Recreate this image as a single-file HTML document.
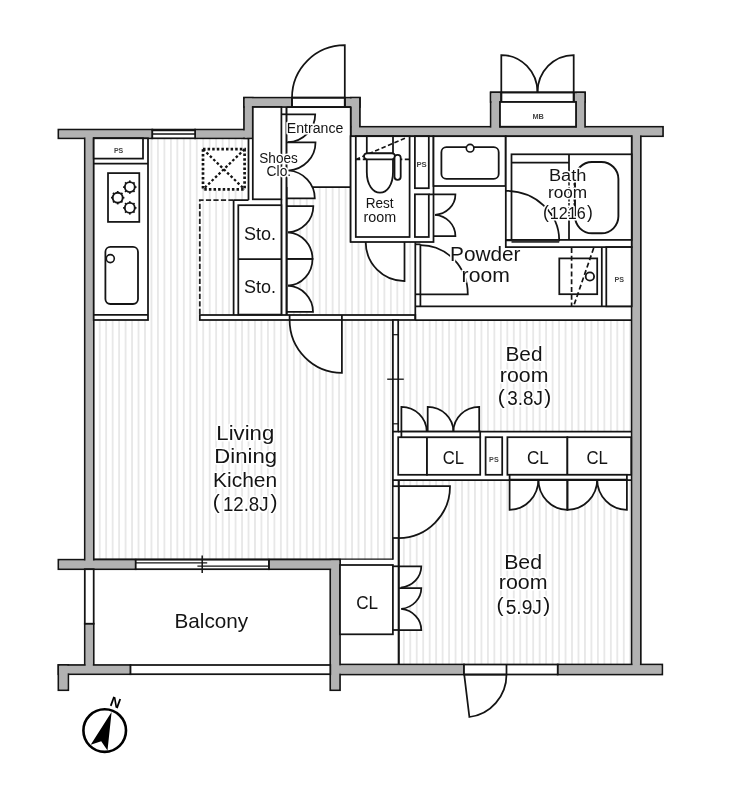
<!DOCTYPE html>
<html><head><meta charset="utf-8"><title>Floor plan</title>
<style>html,body{margin:0;padding:0;background:#fff}svg{display:block;will-change:transform;filter:grayscale(1)}text{font-family:"Liberation Sans","Noto Sans CJK JP",sans-serif}</style>
</head><body>
<svg width="734" height="800" viewBox="0 0 734 800">
<rect width="734" height="800" fill="#fff"/>
<defs><pattern id="st" x="99.7" y="0" width="6.47" height="10" patternUnits="userSpaceOnUse"><rect x="-0.55" y="0" width="1.1" height="10" fill="#d8d8d8"/><rect x="5.92" y="0" width="1.1" height="10" fill="#d8d8d8"/></pattern></defs>
<path d="M148,138 L248.5,138 L248.5,200 L233.6,200 L233.6,315 L199.8,315 L199.8,320 L393,320 L393,560 L93.7,560 L93.7,320 L148,320 Z" fill="url(#st)"/>
<path d="M286.6,187 L351,187 L351,242 L415,242 L415,315 L286.6,315 Z" fill="url(#st)"/>
<path d="M398.3,320 L632,320 L632,432 L398.3,432 Z" fill="url(#st)"/>
<path d="M398.7,480 L632,480 L632,664.5 L398.7,664.5 Z" fill="url(#st)"/>
<path d="M506.5,674.4 L464.2,674.4 L469.4,717 A42.30,42.92 0 0 0 506.5,674.4" fill="#fff" stroke="none"/>
<path d="M401.3,608.9 L398.7,630 L421.3,630 A22.60,21.26 0 0 0 401.3,608.9" fill="#fff" stroke="none"/>
<path d="M401.3,608.9 L398.7,588 L421.3,588 A22.60,21.06 0 0 1 401.3,608.9" fill="#fff" stroke="none"/>
<path d="M400.8,587.5 L398.7,566.3 L421.3,566.3 A22.60,21.30 0 0 1 400.8,587.5" fill="#fff" stroke="none"/>
<path d="M398.7,538 L398.7,486.2 L450,486.2 A51.30,51.80 0 0 1 398.7,538" fill="#fff" stroke="none"/>
<path d="M597.2,479.6 L626.9,479.6 L626.9,509.8 A29.70,30.20 0 0 1 597.2,479.6" fill="#fff" stroke="none"/>
<path d="M597.2,479.6 L567.4,479.6 L567.4,509.8 A29.80,30.20 0 0 0 597.2,479.6" fill="#fff" stroke="none"/>
<path d="M538.4,479.6 L567.4,479.6 L567.4,509.8 A29.00,30.20 0 0 1 538.4,479.6" fill="#fff" stroke="none"/>
<path d="M538.4,479.6 L509.6,479.6 L509.6,509.8 A28.80,30.20 0 0 0 538.4,479.6" fill="#fff" stroke="none"/>
<path d="M453.4,431.6 L479.2,431.6 L479.2,406.8 A25.80,24.80 0 0 0 453.4,431.6" fill="#fff" stroke="none"/>
<path d="M453.4,431.6 L427.7,431.6 L427.7,406.8 A25.70,24.80 0 0 1 453.4,431.6" fill="#fff" stroke="none"/>
<path d="M426.7,431.6 L401.4,431.6 L401.4,406.8 A25.30,24.80 0 0 1 426.7,431.6" fill="#fff" stroke="none"/>
<path d="M435,214.8 L433.5,236 L455.4,236 A21.90,21.25 0 0 0 435,214.8" fill="#fff" stroke="none"/>
<path d="M435,214.8 L433.5,194.4 L455.4,194.4 A21.90,20.46 0 0 1 435,214.8" fill="#fff" stroke="none"/>
<path d="M420.4,245 L420.4,294.3 L467.8,294.3 A47.40,49.30 0 0 0 420.4,245" fill="#fff" stroke="none"/>
<path d="M365.7,242 L404.5,242 L404.5,281 A38.80,39.00 0 0 1 365.7,242" fill="#fff" stroke="none"/>
<path d="M289.6,320 L341.9,320 L341.9,372.8 A52.30,52.80 0 0 1 289.6,320" fill="#fff" stroke="none"/>
<path d="M537.5,92.4 L573.7,92.4 L573.7,55 A36.20,37.40 0 0 0 537.5,92.4" fill="#fff" stroke="none"/>
<path d="M537.5,92.4 L501.3,92.4 L501.3,55 A36.20,37.40 0 0 1 537.5,92.4" fill="#fff" stroke="none"/>
<path d="M292,97.7 L344.8,97.7 L344.8,45.2 A52.80,52.50 0 0 0 292,97.7" fill="#fff" stroke="none"/>
<path d="M288,285.7 L286.6,311.9 L313,311.9 A26.40,26.24 0 0 0 288,285.7" fill="#fff" stroke="none"/>
<path d="M288,285.7 L286.6,258.9 L312.5,258.9 A25.90,26.84 0 0 1 288,285.7" fill="#fff" stroke="none"/>
<path d="M288,232.3 L286.6,258.9 L312.5,258.9 A25.90,26.64 0 0 0 288,232.3" fill="#fff" stroke="none"/>
<path d="M288,232.3 L286.6,206.2 L313.3,206.2 A26.70,26.14 0 0 1 288,232.3" fill="#fff" stroke="none"/>
<path d="M288.5,170.5 L286.6,198.4 L314.8,198.4 A28.20,27.96 0 0 0 288.5,170.5" fill="#fff" stroke="none"/>
<path d="M288.5,170.5 L286.6,142.4 L315.5,142.4 A28.90,28.16 0 0 1 288.5,170.5" fill="#fff" stroke="none"/>
<path d="M288,142.2 L286.6,114.3 L315.2,114.3 A28.60,27.94 0 0 1 288,142.2" fill="#fff" stroke="none"/>
<rect x="58.4" y="129.6" width="93.9" height="8.7" fill="#b2b2b2" stroke="#141414" stroke-width="1.75"/>
<rect x="195.1" y="129.6" width="52.9" height="8.7" fill="#b2b2b2" stroke="#141414" stroke-width="1.75"/>
<rect x="244" y="97.7" width="8.8" height="40.6" fill="#b2b2b2" stroke="#141414" stroke-width="1.75"/>
<rect x="244" y="97.7" width="48" height="9.3" fill="#b2b2b2" stroke="#141414" stroke-width="1.75"/>
<rect x="344.8" y="97.7" width="15.1" height="9.3" fill="#b2b2b2" stroke="#141414" stroke-width="1.75"/>
<rect x="350.8" y="97.7" width="9.1" height="38.5" fill="#b2b2b2" stroke="#141414" stroke-width="1.75"/>
<rect x="351" y="126.8" width="312" height="9.4" fill="#b2b2b2" stroke="#141414" stroke-width="1.75"/>
<rect x="490.7" y="92.4" width="9.3" height="38.6" fill="#b2b2b2" stroke="#141414" stroke-width="1.75"/>
<rect x="490.7" y="92.4" width="10.6" height="9.6" fill="#b2b2b2" stroke="#141414" stroke-width="1.75"/>
<rect x="573.7" y="92.4" width="11.3" height="9.6" fill="#b2b2b2" stroke="#141414" stroke-width="1.75"/>
<rect x="576" y="92.4" width="9" height="38.6" fill="#b2b2b2" stroke="#141414" stroke-width="1.75"/>
<rect x="631.7" y="131" width="9.1" height="539" fill="#b2b2b2" stroke="#141414" stroke-width="1.75"/>
<rect x="335" y="664.5" width="129" height="10.0" fill="#b2b2b2" stroke="#141414" stroke-width="1.75"/>
<rect x="557.7" y="664.5" width="104.6" height="10.0" fill="#b2b2b2" stroke="#141414" stroke-width="1.75"/>
<rect x="330.3" y="559.7" width="9.7" height="130.5" fill="#b2b2b2" stroke="#141414" stroke-width="1.75"/>
<rect x="58.4" y="559.7" width="77.3" height="9.5" fill="#b2b2b2" stroke="#141414" stroke-width="1.75"/>
<rect x="268.9" y="559.7" width="71.1" height="9.5" fill="#b2b2b2" stroke="#141414" stroke-width="1.75"/>
<rect x="84.8" y="134" width="8.9" height="430" fill="#b2b2b2" stroke="#141414" stroke-width="1.75"/>
<rect x="84.8" y="623.7" width="8.9" height="46.3" fill="#b2b2b2" stroke="#141414" stroke-width="1.75"/>
<rect x="58.4" y="665" width="72.1" height="9.2" fill="#b2b2b2" stroke="#141414" stroke-width="1.75"/>
<rect x="58.4" y="665" width="9.9" height="25.2" fill="#b2b2b2" stroke="#141414" stroke-width="1.75"/>
<rect x="59.275" y="130.475" width="92.15" height="6.95" fill="#b2b2b2"/>
<rect x="195.975" y="130.475" width="51.15" height="6.95" fill="#b2b2b2"/>
<rect x="244.875" y="98.575" width="7.05" height="38.85" fill="#b2b2b2"/>
<rect x="244.875" y="98.575" width="46.25" height="7.55" fill="#b2b2b2"/>
<rect x="345.675" y="98.575" width="13.35" height="7.55" fill="#b2b2b2"/>
<rect x="351.675" y="98.575" width="7.35" height="36.75" fill="#b2b2b2"/>
<rect x="351.875" y="127.675" width="310.25" height="7.65" fill="#b2b2b2"/>
<rect x="491.575" y="93.275" width="7.55" height="36.85" fill="#b2b2b2"/>
<rect x="491.575" y="93.275" width="8.85" height="7.85" fill="#b2b2b2"/>
<rect x="574.575" y="93.275" width="9.55" height="7.85" fill="#b2b2b2"/>
<rect x="576.875" y="93.275" width="7.25" height="36.85" fill="#b2b2b2"/>
<rect x="632.575" y="131.875" width="7.35" height="537.25" fill="#b2b2b2"/>
<rect x="335.875" y="665.375" width="127.25" height="8.25" fill="#b2b2b2"/>
<rect x="558.575" y="665.375" width="102.85" height="8.25" fill="#b2b2b2"/>
<rect x="331.175" y="560.575" width="7.95" height="128.75" fill="#b2b2b2"/>
<rect x="59.275" y="560.575" width="75.55" height="7.75" fill="#b2b2b2"/>
<rect x="269.775" y="560.575" width="69.35" height="7.75" fill="#b2b2b2"/>
<rect x="85.675" y="134.875" width="7.15" height="428.25" fill="#b2b2b2"/>
<rect x="85.675" y="624.575" width="7.15" height="44.55" fill="#b2b2b2"/>
<rect x="59.275" y="665.875" width="70.35" height="7.45" fill="#b2b2b2"/>
<rect x="59.275" y="665.875" width="8.15" height="23.45" fill="#b2b2b2"/>
<rect x="152.3" y="129.6" width="42.8" height="8.7" rx="0" fill="#fff" stroke="#141414" stroke-width="1.75"/>
<line x1="152.3" y1="134.1" x2="195.1" y2="134.1" stroke="#141414" stroke-width="1.5" />
<line x1="152.3" y1="130.6" x2="195.1" y2="130.6" stroke="#141414" stroke-width="1.3" />
<rect x="292" y="97.7" width="52.8" height="9.3" rx="0" fill="#fff" stroke="#141414" stroke-width="1.75"/>
<rect x="501.3" y="92.4" width="72.4" height="9.6" rx="0" fill="#fff" stroke="#141414" stroke-width="1.75"/>
<rect x="135.7" y="559.7" width="133.2" height="9.5" rx="0" fill="#fff" stroke="#141414" stroke-width="1.75"/>
<line x1="135.7" y1="562.9" x2="207.2" y2="562.9" stroke="#141414" stroke-width="1.3" />
<line x1="197.4" y1="566.1" x2="268.9" y2="566.1" stroke="#141414" stroke-width="1.3" />
<line x1="202.2" y1="555.5" x2="202.2" y2="573" stroke="#141414" stroke-width="1.5" />
<rect x="84.8" y="569.2" width="8.9" height="54.5" rx="0" fill="#fff" stroke="#141414" stroke-width="1.75"/>
<rect x="130.5" y="665" width="199.8" height="9.2" rx="0" fill="#fff" stroke="#141414" stroke-width="1.75"/>
<rect x="464" y="664.5" width="93.7" height="10.0" rx="0" fill="#fff" stroke="#141414" stroke-width="1.75"/>
<line x1="506.5" y1="664.5" x2="506.5" y2="674.5" stroke="#141414" stroke-width="1.75" />
<rect x="93.7" y="138.3" width="54.3" height="181.7" rx="0" fill="#fff" stroke="#141414" stroke-width="1.75"/>
<rect x="93.7" y="138.3" width="49.3" height="20.3" rx="0" fill="#fff" stroke="#141414" stroke-width="1.75"/>
<line x1="93.7" y1="163.5" x2="148" y2="163.5" stroke="#141414" stroke-width="1.75" />
<line x1="93.7" y1="314.8" x2="148" y2="314.8" stroke="#141414" stroke-width="1.75" />
<rect x="108" y="173.1" width="31.3" height="48.8" rx="0" fill="#fff" stroke="#141414" stroke-width="1.75"/>
<line x1="134.8" y1="187.1" x2="136.5" y2="187.1" stroke="#141414" stroke-width="1.7" />
<line x1="133.34" y1="190.64" x2="134.54" y2="191.84" stroke="#141414" stroke-width="1.7" />
<line x1="129.8" y1="192.1" x2="129.8" y2="193.8" stroke="#141414" stroke-width="1.7" />
<line x1="126.26" y1="190.64" x2="125.06" y2="191.84" stroke="#141414" stroke-width="1.7" />
<line x1="124.8" y1="187.1" x2="123.1" y2="187.1" stroke="#141414" stroke-width="1.7" />
<line x1="126.26" y1="183.56" x2="125.06" y2="182.36" stroke="#141414" stroke-width="1.7" />
<line x1="129.8" y1="182.1" x2="129.8" y2="180.4" stroke="#141414" stroke-width="1.7" />
<line x1="133.34" y1="183.56" x2="134.54" y2="182.36" stroke="#141414" stroke-width="1.7" />
<circle cx="129.8" cy="187.1" r="5" fill="#fff" stroke="#141414" stroke-width="1.9"/>
<line x1="122.7" y1="197.7" x2="124.4" y2="197.7" stroke="#141414" stroke-width="1.7" />
<line x1="121.24" y1="201.24" x2="122.44" y2="202.44" stroke="#141414" stroke-width="1.7" />
<line x1="117.7" y1="202.7" x2="117.7" y2="204.4" stroke="#141414" stroke-width="1.7" />
<line x1="114.16" y1="201.24" x2="112.96" y2="202.44" stroke="#141414" stroke-width="1.7" />
<line x1="112.7" y1="197.7" x2="111.0" y2="197.7" stroke="#141414" stroke-width="1.7" />
<line x1="114.16" y1="194.16" x2="112.96" y2="192.96" stroke="#141414" stroke-width="1.7" />
<line x1="117.7" y1="192.7" x2="117.7" y2="191.0" stroke="#141414" stroke-width="1.7" />
<line x1="121.24" y1="194.16" x2="122.44" y2="192.96" stroke="#141414" stroke-width="1.7" />
<circle cx="117.7" cy="197.7" r="5" fill="#fff" stroke="#141414" stroke-width="1.9"/>
<line x1="134.8" y1="207.9" x2="136.5" y2="207.9" stroke="#141414" stroke-width="1.7" />
<line x1="133.34" y1="211.44" x2="134.54" y2="212.64" stroke="#141414" stroke-width="1.7" />
<line x1="129.8" y1="212.9" x2="129.8" y2="214.6" stroke="#141414" stroke-width="1.7" />
<line x1="126.26" y1="211.44" x2="125.06" y2="212.64" stroke="#141414" stroke-width="1.7" />
<line x1="124.8" y1="207.9" x2="123.1" y2="207.9" stroke="#141414" stroke-width="1.7" />
<line x1="126.26" y1="204.36" x2="125.06" y2="203.16" stroke="#141414" stroke-width="1.7" />
<line x1="129.8" y1="202.9" x2="129.8" y2="201.2" stroke="#141414" stroke-width="1.7" />
<line x1="133.34" y1="204.36" x2="134.54" y2="203.16" stroke="#141414" stroke-width="1.7" />
<circle cx="129.8" cy="207.9" r="5" fill="#fff" stroke="#141414" stroke-width="1.9"/>
<rect x="105.4" y="246.9" width="32.6" height="57.1" rx="5" fill="#fff" stroke="#141414" stroke-width="1.8"/>
<circle cx="110.3" cy="258.6" r="4" fill="#fff" stroke="#141414" stroke-width="1.6"/>
<rect x="203" y="149.2" width="41.6" height="40.2" fill="#fff" stroke="#141414" stroke-width="2.7" stroke-dasharray="2.5 2.1"/>
<path d="M203,149.2 L244.6,189.4 M244.6,149.2 L203,189.4" stroke="#141414" stroke-width="2.3" stroke-dasharray="2.6 2.2" fill="none"/>
<path d="M233.6,200.1 L199.8,200.1 L199.8,315" stroke="#222" stroke-width="1.8" stroke-dasharray="5.2 2.3" fill="none"/>
<line x1="248.5" y1="138.3" x2="248.5" y2="200.1" stroke="#141414" stroke-width="1.75" />
<line x1="233.6" y1="200.1" x2="248.5" y2="200.1" stroke="#141414" stroke-width="1.75" />
<line x1="233.6" y1="200.1" x2="233.6" y2="315" stroke="#141414" stroke-width="1.75" />
<rect x="199.8" y="315" width="215.5" height="5" rx="0" fill="#fff" stroke="#141414" stroke-width="1.75"/>
<line x1="415.3" y1="320" x2="632" y2="320" stroke="#141414" stroke-width="1.75" />
<rect x="252.8" y="107" width="28.6" height="92.3" rx="0" fill="#fff" stroke="#141414" stroke-width="1.75"/>
<line x1="286.6" y1="107" x2="286.6" y2="315" stroke="#141414" stroke-width="1.75" />
<line x1="281.4" y1="199.3" x2="281.4" y2="315" stroke="#141414" stroke-width="1.75" />
<rect x="287" y="107.8" width="63" height="79.2" fill="#fff"/>
<line x1="350.7" y1="107" x2="350.7" y2="242" stroke="#141414" stroke-width="1.75" />
<line x1="286.6" y1="107" x2="350.7" y2="107" stroke="#141414" stroke-width="1.75" />
<line x1="312.3" y1="187" x2="351" y2="187" stroke="#141414" stroke-width="1.75" />
<rect x="238.3" y="205.2" width="43.1" height="109.4" rx="0" fill="#fff" stroke="#141414" stroke-width="1.75"/>
<line x1="238.3" y1="259" x2="281.4" y2="259" stroke="#141414" stroke-width="1.75" />
<path d="M286.6,114.3 L315.2,114.3 A28.60,27.94 0 0 1 288,142.2" fill="none" stroke="#141414" stroke-width="1.75"/>
<path d="M286.6,142.4 L315.5,142.4 A28.90,28.16 0 0 1 288.5,170.5" fill="none" stroke="#141414" stroke-width="1.75"/>
<path d="M286.6,198.4 L314.8,198.4 A28.20,27.96 0 0 0 288.5,170.5" fill="none" stroke="#141414" stroke-width="1.75"/>
<line x1="281.4" y1="114.3" x2="286.6" y2="114.3" stroke="#141414" stroke-width="1.75" />
<path d="M286.6,206.2 L313.3,206.2 A26.70,26.14 0 0 1 288,232.3" fill="none" stroke="#141414" stroke-width="1.75"/>
<path d="M286.6,258.9 L312.5,258.9 A25.90,26.64 0 0 0 288,232.3" fill="none" stroke="#141414" stroke-width="1.75"/>
<path d="M286.6,258.9 L312.5,258.9 A25.90,26.84 0 0 1 288,285.7" fill="none" stroke="#141414" stroke-width="1.75"/>
<path d="M286.6,311.9 L313,311.9 A26.40,26.24 0 0 0 288,285.7" fill="none" stroke="#141414" stroke-width="1.75"/>
<line x1="286.6" y1="107" x2="286.6" y2="315" stroke="#141414" stroke-width="1.75" />
<path d="M344.8,97.7 L344.8,45.2 A52.80,52.50 0 0 0 292,97.7" fill="none" stroke="#141414" stroke-width="1.75"/>
<line x1="292" y1="97.7" x2="344.8" y2="97.7" stroke="#141414" stroke-width="1.75" />
<line x1="292" y1="97.7" x2="292" y2="107" stroke="#141414" stroke-width="1.75" />
<line x1="344.8" y1="97.7" x2="344.8" y2="107" stroke="#141414" stroke-width="1.75" />
<path d="M501.3,92.4 L501.3,55 A36.20,37.40 0 0 1 537.5,92.4" fill="none" stroke="#141414" stroke-width="1.75"/>
<path d="M573.7,92.4 L573.7,55 A36.20,37.40 0 0 0 537.5,92.4" fill="none" stroke="#141414" stroke-width="1.75"/>
<rect x="500" y="102" width="76" height="24.7" rx="0" fill="#fff" stroke="#141414" stroke-width="1.75"/>
<line x1="501.3" y1="92.4" x2="573.7" y2="92.4" stroke="#141414" stroke-width="1.75" />
<line x1="501.3" y1="92.4" x2="501.3" y2="102" stroke="#141414" stroke-width="1.75" />
<line x1="573.7" y1="92.4" x2="573.7" y2="102" stroke="#141414" stroke-width="1.75" />
<path d="M341.9,320 L341.9,372.8 A52.30,52.80 0 0 1 289.6,320" fill="none" stroke="#141414" stroke-width="1.75"/>
<line x1="289.6" y1="315" x2="289.6" y2="320" stroke="#141414" stroke-width="1.75" />
<line x1="341.9" y1="315" x2="341.9" y2="320" stroke="#141414" stroke-width="1.75" />
<rect x="350.6" y="136.2" width="82.9" height="105.8" rx="0" fill="#fff" stroke="#141414" stroke-width="1.75"/>
<rect x="355.8" y="136.2" width="53.8" height="100.8" rx="0" fill="#fff" stroke="#141414" stroke-width="1.75"/>
<rect x="414.9" y="136.2" width="13.9" height="52.0" rx="0" fill="#fff" stroke="#141414" stroke-width="1.75"/>
<rect x="414.9" y="194.3" width="13.9" height="42.7" rx="0" fill="#fff" stroke="#141414" stroke-width="1.75"/>
<rect x="366.8" y="136.2" width="26.2" height="17.1" rx="0" fill="#fff" stroke="#141414" stroke-width="1.75"/>
<path d="M355.8,159.4 L409.6,159.4 M355.8,159.4 L407,137.4" stroke="#141414" stroke-width="1.6" stroke-dasharray="4.5 2.5" fill="none"/>
<path d="M366.8,159 L366.8,172 C366.8,185 373,192.7 380,192.7 C387,192.7 393,185 393,172 L393,159 Z" fill="#fff" stroke="#141414" stroke-width="1.8"/>
<rect x="364" y="153.3" width="31" height="6.0" rx="3" fill="#fff" stroke="#141414" stroke-width="1.8"/>
<rect x="394.5" y="154.8" width="6.2" height="25.0" rx="3" fill="#fff" stroke="#141414" stroke-width="1.8"/>
<path d="M404.5,242 L404.5,281 A38.80,39.00 0 0 1 365.7,242" fill="none" stroke="#141414" stroke-width="1.75"/>
<rect x="433.5" y="136.2" width="72.1" height="49.8" rx="0" fill="#fff" stroke="#141414" stroke-width="1.75"/>
<rect x="441.4" y="147.2" width="57.3" height="31.7" rx="5" fill="#fff" stroke="#141414" stroke-width="1.8"/>
<circle cx="470.1" cy="148.2" r="3.8" fill="#fff" stroke="#141414" stroke-width="1.6"/>
<line x1="415.3" y1="306.3" x2="632" y2="306.3" stroke="#141414" stroke-width="1.75" />
<line x1="415.3" y1="242" x2="415.3" y2="320" stroke="#141414" stroke-width="1.75" />
<line x1="420.4" y1="244.3" x2="420.4" y2="306.3" stroke="#141414" stroke-width="1.75" />
<line x1="415.3" y1="244.3" x2="420.4" y2="244.3" stroke="#141414" stroke-width="1.75" />
<path d="M420.4,294.3 L467.8,294.3 A47.40,49.30 0 0 0 420.4,245" fill="none" stroke="#141414" stroke-width="1.75"/>
<line x1="415.3" y1="294.3" x2="420.4" y2="294.3" stroke="#141414" stroke-width="1.75" />
<path d="M433.5,194.4 L455.4,194.4 A21.90,20.46 0 0 1 435,214.8" fill="none" stroke="#141414" stroke-width="1.75"/>
<path d="M433.5,236 L455.4,236 A21.90,21.25 0 0 0 435,214.8" fill="none" stroke="#141414" stroke-width="1.75"/>
<line x1="428.8" y1="194.4" x2="433.5" y2="194.4" stroke="#141414" stroke-width="1.75" />
<rect x="505.8" y="136.2" width="125.9" height="110.9" rx="0" fill="#fff" stroke="#141414" stroke-width="1.75"/>
<rect x="511.5" y="154.3" width="120.2" height="85.6" rx="0" fill="#fff" stroke="#141414" stroke-width="1.75"/>
<line x1="505.8" y1="239.9" x2="511.5" y2="239.9" stroke="#141414" stroke-width="1.75" />
<line x1="511.5" y1="162.6" x2="569" y2="162.6" stroke="#141414" stroke-width="1.75" />
<line x1="569" y1="154.3" x2="569" y2="183" stroke="#141414" stroke-width="1.75" />
<line x1="569" y1="219" x2="569" y2="239.9" stroke="#141414" stroke-width="1.75" />
<rect x="575" y="162" width="43.4" height="71.3" rx="17" fill="#fff" stroke="#141414" stroke-width="1.9"/>
<path d="M569,183 L569,219 M574.3,183 L574.3,219" stroke="#141414" stroke-width="1.5" stroke-dasharray="2.6 1.4" fill="none"/>
<path d="M505.8,240.3 L559.2,240.3 A53.40,49.50 0 0 0 505.8,190.8" fill="none" stroke="#141414" stroke-width="1.75"/>
<rect x="511.5" y="240.4" width="47.7" height="2.4" fill="#333"/>
<line x1="601.8" y1="247.1" x2="601.8" y2="306.3" stroke="#141414" stroke-width="1.75" />
<rect x="606.3" y="247.1" width="25.4" height="59.2" rx="0" fill="#fff" stroke="#141414" stroke-width="1.75"/>
<rect x="559.3" y="258.4" width="37.9" height="35.8" rx="0" fill="#fff" stroke="#141414" stroke-width="1.75"/>
<circle cx="589.9" cy="276.5" r="4.2" fill="#fff" stroke="#141414" stroke-width="1.8"/>
<path d="M571.6,248 L571.6,306 M593.7,248 L573.7,306" stroke="#141414" stroke-width="1.7" stroke-dasharray="5 2.8" fill="none"/>
<rect x="392.9" y="320" width="5.3" height="111.6" rx="0" fill="#fff" stroke="#141414" stroke-width="1.75"/>
<line x1="392.9" y1="334.7" x2="398.2" y2="334.7" stroke="#141414" stroke-width="1.2" />
<line x1="392.9" y1="423.8" x2="398.2" y2="423.8" stroke="#141414" stroke-width="1.2" />
<line x1="387.2" y1="379.2" x2="403.8" y2="379.2" stroke="#141414" stroke-width="1.3" />
<line x1="392.9" y1="431.6" x2="392.9" y2="559.7" stroke="#141414" stroke-width="1.75" />
<line x1="398.2" y1="431.6" x2="632" y2="431.6" stroke="#141414" stroke-width="1.75" />
<rect x="398.2" y="437.2" width="28.8" height="37.6" rx="0" fill="#fff" stroke="#141414" stroke-width="1.75"/>
<rect x="427" y="437.2" width="53.2" height="37.6" rx="0" fill="#fff" stroke="#141414" stroke-width="1.75"/>
<rect x="485.6" y="437.2" width="16.6" height="37.6" rx="0" fill="#fff" stroke="#141414" stroke-width="1.75"/>
<rect x="507.4" y="437.2" width="60.0" height="37.6" rx="0" fill="#fff" stroke="#141414" stroke-width="1.75"/>
<rect x="567.4" y="437.2" width="63.8" height="37.6" rx="0" fill="#fff" stroke="#141414" stroke-width="1.75"/>
<rect x="401.4" y="431.6" width="78.8" height="5.6" rx="0" fill="#fff" stroke="#141414" stroke-width="1.75"/>
<path d="M401.4,431.6 L401.4,406.8 A25.30,24.80 0 0 1 426.7,431.6" fill="none" stroke="#141414" stroke-width="1.75"/>
<path d="M427.7,431.6 L427.7,406.8 A25.70,24.80 0 0 1 453.4,431.6" fill="none" stroke="#141414" stroke-width="1.75"/>
<path d="M479.2,431.6 L479.2,406.8 A25.80,24.80 0 0 0 453.4,431.6" fill="none" stroke="#141414" stroke-width="1.75"/>
<line x1="392.9" y1="480" x2="632" y2="480" stroke="#141414" stroke-width="1.75" />
<rect x="509.6" y="474.8" width="117.3" height="4.8" rx="0" fill="#fff" stroke="#141414" stroke-width="1.75"/>
<path d="M509.6,479.6 L509.6,509.8 A28.80,30.20 0 0 0 538.4,479.6" fill="none" stroke="#141414" stroke-width="1.75"/>
<path d="M567.4,479.6 L567.4,509.8 A29.00,30.20 0 0 1 538.4,479.6" fill="none" stroke="#141414" stroke-width="1.75"/>
<path d="M567.4,479.6 L567.4,509.8 A29.80,30.20 0 0 0 597.2,479.6" fill="none" stroke="#141414" stroke-width="1.75"/>
<path d="M626.9,479.6 L626.9,509.8 A29.70,30.20 0 0 1 597.2,479.6" fill="none" stroke="#141414" stroke-width="1.75"/>
<line x1="398.7" y1="480" x2="398.7" y2="664.5" stroke="#141414" stroke-width="1.75" />
<rect x="393.7" y="486.2" width="4.2" height="51.8" fill="#fff"/>
<path d="M398.7,486.2 L450,486.2 A51.30,51.80 0 0 1 398.7,538" fill="none" stroke="#141414" stroke-width="1.75"/>
<line x1="392.9" y1="486.2" x2="398.7" y2="486.2" stroke="#141414" stroke-width="1.75" />
<line x1="392.9" y1="538" x2="398.7" y2="538" stroke="#141414" stroke-width="1.75" />
<line x1="93.7" y1="559.2" x2="392.9" y2="559.2" stroke="#141414" stroke-width="1.2" />
<rect x="340" y="565" width="52.9" height="69.3" rx="0" fill="#fff" stroke="#141414" stroke-width="1.75"/>
<path d="M398.7,566.3 L421.3,566.3 A22.60,21.30 0 0 1 400.8,587.5" fill="none" stroke="#141414" stroke-width="1.75"/>
<path d="M398.7,588 L421.3,588 A22.60,21.06 0 0 1 401.3,608.9" fill="none" stroke="#141414" stroke-width="1.75"/>
<path d="M398.7,630 L421.3,630 A22.60,21.26 0 0 0 401.3,608.9" fill="none" stroke="#141414" stroke-width="1.75"/>
<line x1="392.9" y1="566.3" x2="398.7" y2="566.3" stroke="#141414" stroke-width="1.75" />
<line x1="392.9" y1="630" x2="398.7" y2="630" stroke="#141414" stroke-width="1.75" />
<line x1="398.7" y1="480" x2="398.7" y2="664.5" stroke="#141414" stroke-width="1.75" />
<path d="M464.2,674.4 L469.4,717 A42.30,42.92 0 0 0 506.5,674.4" fill="none" stroke="#141414" stroke-width="1.75"/>
<line x1="464" y1="674.5" x2="506.5" y2="674.5" stroke="#141414" stroke-width="1.75" />
<circle cx="104.7" cy="730.55" r="21.3" fill="#fff" stroke="#000" stroke-width="2.6"/>
<path d="M111.6,711.9 L90.7,744.7 L101.2,741.2 L107.5,750.4 Z" fill="#000"/>
<text x="115.5" y="707.3" font-size="14.2" font-weight="bold" fill="#000" text-anchor="middle" transform="rotate(20 115.5 702.2)">N</text>
<text x="216.38" y="439.5" font-size="20" textLength="57.84" lengthAdjust="spacingAndGlyphs" font-weight="normal" fill="#141414" stroke="#fff" stroke-width="3.2" stroke-linejoin="round" paint-order="stroke" >Living</text>
<text x="214.39" y="463.4" font-size="20" textLength="62.64" lengthAdjust="spacingAndGlyphs" font-weight="normal" fill="#141414" stroke="#fff" stroke-width="3.2" stroke-linejoin="round" paint-order="stroke" >Dining</text>
<text x="213.08" y="487.2" font-size="20" textLength="64.08" lengthAdjust="spacingAndGlyphs" font-weight="normal" fill="#141414" stroke="#fff" stroke-width="3.2" stroke-linejoin="round" paint-order="stroke" >Kichen</text>
<text y="510.9" fill="#141414" stroke="#fff" stroke-width="3.2" stroke-linejoin="round" paint-order="stroke"><tspan x="212.64" y="509.4" font-size="21">(</tspan><tspan x="222.88" y="510.9" font-size="19.6" textLength="45.71" lengthAdjust="spacingAndGlyphs">12.8J</tspan><tspan x="270.53" y="509.4" font-size="21">)</tspan></text>
<text x="505.5" y="360.8" font-size="19.8" textLength="36.94" lengthAdjust="spacingAndGlyphs" font-weight="normal" fill="#141414" stroke="#fff" stroke-width="3.2" stroke-linejoin="round" paint-order="stroke" >Bed</text>
<text x="499.89" y="381.5" font-size="19.8" textLength="48.52" lengthAdjust="spacingAndGlyphs" font-weight="normal" fill="#141414" stroke="#fff" stroke-width="3.2" stroke-linejoin="round" paint-order="stroke" >room</text>
<text y="405.3" fill="#141414" stroke="#fff" stroke-width="3.2" stroke-linejoin="round" paint-order="stroke"><tspan x="497.74" y="403.8" font-size="21">(</tspan><tspan x="507.28" y="405.3" font-size="19.6" textLength="35.62" lengthAdjust="spacingAndGlyphs">3.8J</tspan><tspan x="544.13" y="403.8" font-size="21">)</tspan></text>
<text x="504.16" y="568.7" font-size="19.8" textLength="37.81" lengthAdjust="spacingAndGlyphs" font-weight="normal" fill="#141414" stroke="#fff" stroke-width="3.2" stroke-linejoin="round" paint-order="stroke" >Bed</text>
<text x="498.78" y="589.1" font-size="19.8" textLength="48.73" lengthAdjust="spacingAndGlyphs" font-weight="normal" fill="#141414" stroke="#fff" stroke-width="3.2" stroke-linejoin="round" paint-order="stroke" >room</text>
<text y="613.7" fill="#141414" stroke="#fff" stroke-width="3.2" stroke-linejoin="round" paint-order="stroke"><tspan x="496.44" y="612.2" font-size="21">(</tspan><tspan x="505.73" y="613.7" font-size="19.6" textLength="36.19" lengthAdjust="spacingAndGlyphs">5.9J</tspan><tspan x="543.13" y="612.2" font-size="21">)</tspan></text>
<text x="174.5" y="627.6" font-size="19.8" textLength="73.64" lengthAdjust="spacingAndGlyphs" font-weight="normal" fill="#141414"  >Balcony</text>
<text x="244.08" y="240.2" font-size="18.2" textLength="32.06" lengthAdjust="spacingAndGlyphs" font-weight="normal" fill="#141414"  >Sto.</text>
<text x="244.08" y="292.5" font-size="18.2" textLength="32.06" lengthAdjust="spacingAndGlyphs" font-weight="normal" fill="#141414"  >Sto.</text>
<text x="286.74" y="132.9" font-size="14" textLength="56.59" lengthAdjust="spacingAndGlyphs" font-weight="normal" fill="#141414" stroke="#fff" stroke-width="3.2" stroke-linejoin="round" paint-order="stroke" >Entrance</text>
<text x="259.28" y="162.9" font-size="14" textLength="38.51" lengthAdjust="spacingAndGlyphs" font-weight="normal" fill="#141414" stroke="#fff" stroke-width="3.2" stroke-linejoin="round" paint-order="stroke" >Shoes</text>
<text x="266.6" y="176.4" font-size="14" textLength="24.56" lengthAdjust="spacingAndGlyphs" font-weight="normal" fill="#141414" stroke="#fff" stroke-width="3.2" stroke-linejoin="round" paint-order="stroke" >Clo.</text>
<text x="365.69" y="208" font-size="13.8" textLength="27.91" lengthAdjust="spacingAndGlyphs" font-weight="normal" fill="#141414"  >Rest</text>
<text x="363.55" y="221.5" font-size="13.8" textLength="32.7" lengthAdjust="spacingAndGlyphs" font-weight="normal" fill="#141414"  >room</text>
<text x="450.1" y="261.3" font-size="20.5" textLength="70.45" lengthAdjust="spacingAndGlyphs" font-weight="normal" fill="#141414" stroke="#fff" stroke-width="3.2" stroke-linejoin="round" paint-order="stroke" >Powder</text>
<text x="461.6" y="282" font-size="20.5" textLength="48.2" lengthAdjust="spacingAndGlyphs" font-weight="normal" fill="#141414" stroke="#fff" stroke-width="3.2" stroke-linejoin="round" paint-order="stroke" >room</text>
<text x="548.91" y="181.2" font-size="16" textLength="37.48" lengthAdjust="spacingAndGlyphs" font-weight="normal" fill="#141414" stroke="#fff" stroke-width="3.2" stroke-linejoin="round" paint-order="stroke" >Bath</text>
<text x="547.96" y="198.2" font-size="16" textLength="39.28" lengthAdjust="spacingAndGlyphs" font-weight="normal" fill="#141414" stroke="#fff" stroke-width="3.2" stroke-linejoin="round" paint-order="stroke" >room</text>
<text y="219.4" fill="#141414" stroke="#fff" stroke-width="3.2" stroke-linejoin="round" paint-order="stroke"><tspan x="542.95" y="218.4" font-size="17.5">(</tspan><tspan x="549.77" y="219.4" font-size="16.4" textLength="35.94" lengthAdjust="spacingAndGlyphs">1216</tspan><tspan x="586.88" y="218.4" font-size="17.5">)</tspan></text>
<text x="442.75" y="463.9" font-size="17.7" textLength="21.3" lengthAdjust="spacingAndGlyphs" font-weight="normal" fill="#141414"  >CL</text>
<text x="527.03" y="463.9" font-size="17.7" textLength="21.83" lengthAdjust="spacingAndGlyphs" font-weight="normal" fill="#141414"  >CL</text>
<text x="586.45" y="463.9" font-size="17.7" textLength="21.41" lengthAdjust="spacingAndGlyphs" font-weight="normal" fill="#141414"  >CL</text>
<text x="356.13" y="608.8" font-size="17.7" textLength="21.94" lengthAdjust="spacingAndGlyphs" font-weight="normal" fill="#141414"  >CL</text>
<text x="113.93" y="152.6" font-size="7.3" textLength="9.34" lengthAdjust="spacingAndGlyphs" font-weight="bold" fill="#444">PS</text>
<text x="416.48" y="167.1" font-size="7.6" textLength="10.32" lengthAdjust="spacingAndGlyphs" font-weight="bold" fill="#444">PS</text>
<text x="614.52" y="282.2" font-size="7.3" textLength="9.56" lengthAdjust="spacingAndGlyphs" font-weight="bold" fill="#444">PS</text>
<text x="489.12" y="461.6" font-size="7" textLength="9.56" lengthAdjust="spacingAndGlyphs" font-weight="bold" fill="#444">PS</text>
<text x="532.41" y="118.7" font-size="7.4" textLength="11.43" lengthAdjust="spacingAndGlyphs" font-weight="bold" fill="#444">MB</text>
</svg>
</body></html>
